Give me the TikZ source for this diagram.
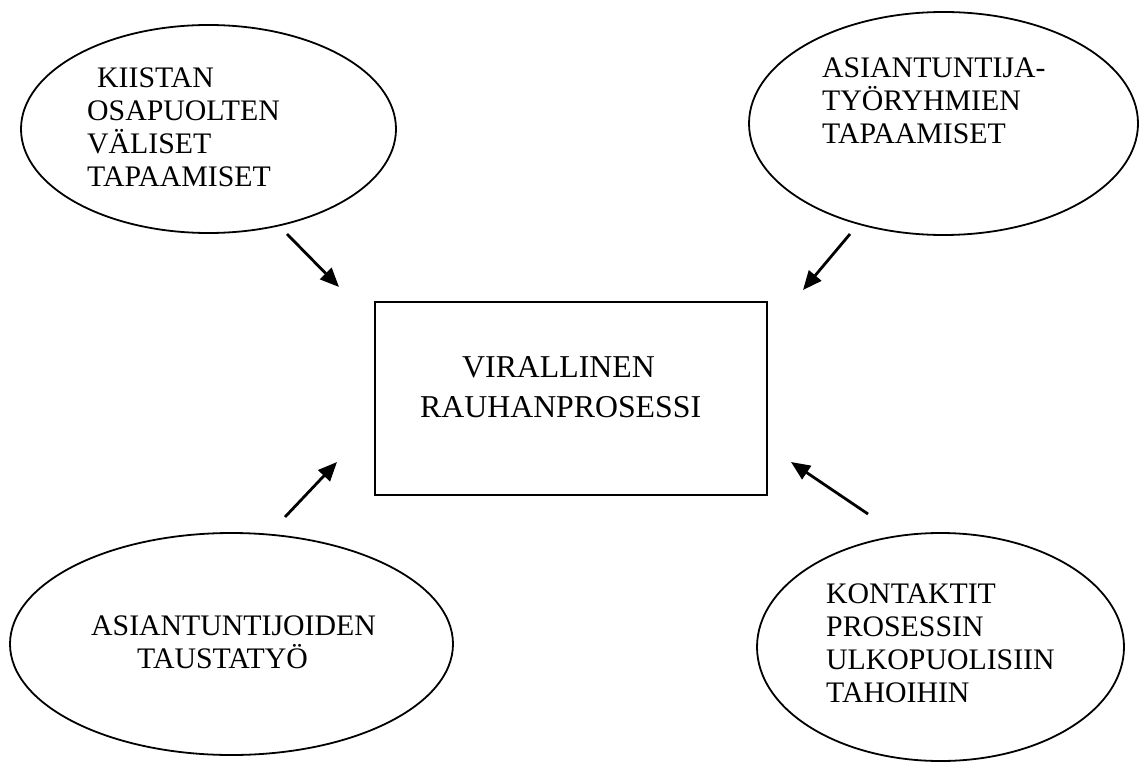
\documentclass[tikz,border=0pt]{standalone}
\usepackage{fontspec}
\setmainfont{Liberation Serif}
\usetikzlibrary{shapes.geometric,arrows.meta}
\begin{document}
\begin{tikzpicture}[x=1pt,y=-1pt,
  bubble/.style={draw, ellipse, line width=1.8pt, inner sep=0pt},
  txt/.style={anchor=base west, inner sep=0pt, font=\fontsize{29.8}{33}\selectfont},
  ctxt/.style={anchor=base west, inner sep=0pt, font=\fontsize{31.8}{40}\selectfont},
  flow/.style={-{Triangle[length=19pt,width=16pt]}, line width=2.8pt}]
\useasboundingbox (0,0) rectangle (1139,762);
\fill[white] (0,0) rectangle (1139,762);
% ellipses
\node[bubble, minimum width=375pt, minimum height=208pt] (kii) at (208.5,129) {};
\node[bubble, minimum width=389pt, minimum height=223pt] (asi) at (943.5,123.5) {};
\node[bubble, minimum width=443pt, minimum height=222pt] (tau) at (231.5,644) {};
\node[bubble, minimum width=367pt, minimum height=228pt] (kon) at (940.5,647) {};
% centre box
\node[draw, line width=2pt, minimum width=392pt, minimum height=193pt, inner sep=0pt] (vir) at (571,398.5) {};
% texts
\node[txt] (kiit) at (87,88) {\vtop{\hbox{\hspace{10pt}KIISTAN}\hbox{OSAPUOLTEN}\hbox{VÄLISET}\hbox{TAPAAMISET}}};
\node[txt] (asit) at (822,78) {\vtop{\hbox{ASIANTUNTIJA-}\hbox{TYÖRYHMIEN}\hbox{TAPAAMISET}}};
\node[txt] (taut) at (91,635) {\vtop{\hbox{ASIANTUNTIJOIDEN}\hbox{\hspace{46pt}TAUSTATYÖ}}};
\node[txt] (kont) at (826,603) {\vtop{\hbox{KONTAKTIT}\hbox{PROSESSIN}\hbox{ULKOPUOLISIIN}\hbox{TAHOIHIN}}};
\node[ctxt] (virt) at (420,377) {\vtop{\hbox{\hspace{42pt}VIRALLINEN}\hbox{RAUHANPROSESSI}}};
% arrows
\coordinate (s1) at (287,234); \coordinate (e1) at (339,287);
\coordinate (s2) at (850,234); \coordinate (e2) at (803,290);
\coordinate (s3) at (285,517); \coordinate (e3) at (337,462);
\coordinate (s4) at (868,514); \coordinate (e4) at (791,462);
\draw[flow] (s1) -- (e1);
\draw[flow] (s2) -- (e2);
\draw[flow] (s3) -- (e3);
\draw[flow] (s4) -- (e4);
\end{tikzpicture}
\end{document}
